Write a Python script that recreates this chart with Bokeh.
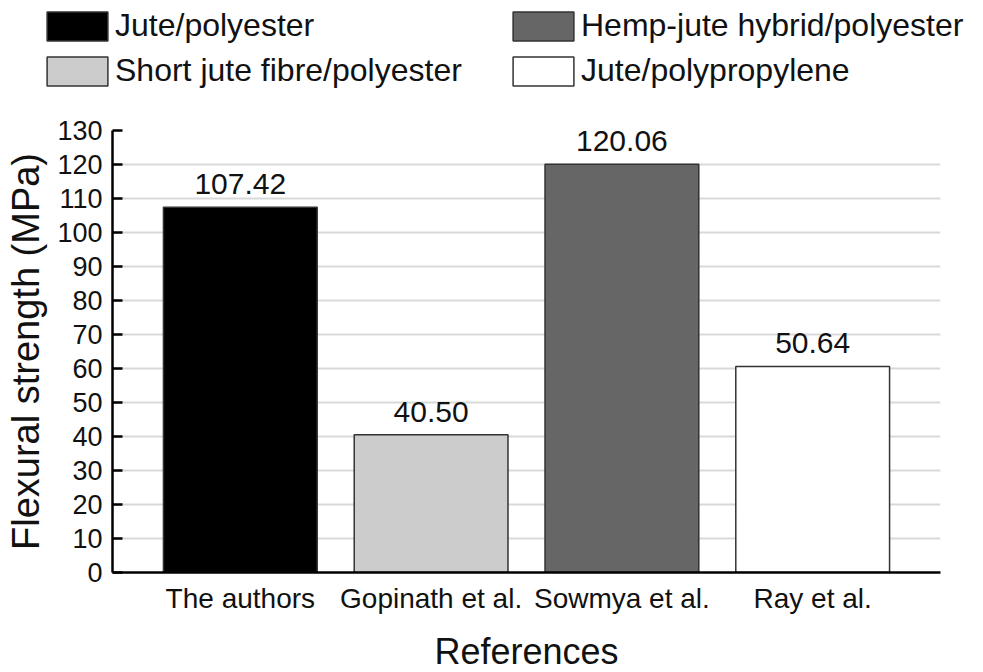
from bokeh.plotting import figure
from bokeh.layouts import column
from bokeh.models import ColumnDataSource, FactorRange, Legend, LegendItem, LabelSet, SingleIntervalTicker
from bokeh.core.properties import value
from bokeh.embed import file_html
from bokeh.resources import INLINE

# ---- data ----
references = ["The authors", "Gopinath et al.", "Sowmya et al.", "Ray et al."]
materials = ["Jute/polyester", "Short jute fibre/polyester",
             "Hemp-jute hybrid/polyester", "Jute/polypropylene"]
bar_heights = [107.42, 40.50, 120.06, 60.6]
value_labels = ["107.42", "40.50", "120.06", "50.64"]
fill_colors = ["#000000", "#cccccc", "#666666", "#ffffff"]

FONT = "Liberation Sans"
TOP_H = 100

src = ColumnDataSource(dict(ref=references, h=bar_heights, lab=value_labels,
                            color=fill_colors, mat=materials))

p = figure(frame_width=828, frame_height=442,
           x_range=FactorRange(factors=references, range_padding=0.17,
                               range_padding_units="absolute"),
           y_range=(0, 130),
           output_backend="svg", toolbar_location=None,
           min_border_left=112, min_border_right=19,
           min_border_top=130 - TOP_H, min_border_bottom=98)
p.outline_line_color = None
p.background_fill_color = "white"

bar_style = dict(fill_color="color", line_color="#333333", line_width=1.5)
bars = p.vbar(x="ref", top="h", width=0.806, source=src, **bar_style)

labels = LabelSet(x="ref", y="h", text="lab", source=src,
                  text_align="center", text_baseline="bottom", y_offset=13,
                  text_font=value(FONT), text_font_size="30px", text_color="#111111")
p.add_layout(labels)

# axes
p.yaxis.ticker = SingleIntervalTicker(interval=10)
p.yaxis.axis_label = "Flexural strength (MPa)"
p.xaxis.axis_label = "References"
for ax in (p.xaxis[0], p.yaxis[0]):
    ax.axis_line_color = "black"
    ax.axis_line_width = 2.5
    ax.major_label_text_font = FONT
    ax.axis_label_text_font = FONT
    ax.axis_label_text_font_style = "normal"
    ax.major_label_text_color = "#111111"
    ax.axis_label_text_color = "#111111"
    ax.minor_tick_line_color = None

p.yaxis.major_tick_in = 10
p.yaxis.major_tick_out = 0
p.yaxis.major_tick_line_width = 2.5
p.yaxis.major_tick_line_color = "black"
p.yaxis.major_label_text_font_size = "27px"
p.yaxis.major_label_standoff = 6
p.yaxis.axis_label_text_font_size = "38px"
p.yaxis.axis_label_standoff = 7

p.xaxis.major_tick_line_color = None
p.xaxis.major_tick_in = 0
p.xaxis.major_tick_out = 0
p.xaxis.major_label_text_font_size = "28px"
p.xaxis.major_label_standoff = 10
p.xaxis.axis_label_text_font_size = "36px"
p.xaxis.axis_label_standoff = 14

p.xgrid.grid_line_color = None
p.ygrid.grid_line_color = "#d9d9d9"
p.ygrid.grid_line_width = 2
p.ygrid.ticker = SingleIntervalTicker(interval=10)

# ---- legend strip above the chart ----
top = figure(frame_width=975, frame_height=TOP_H,
             x_range=FactorRange(factors=references), y_range=(1000, 1001),
             x_axis_type=None, y_axis_type=None,
             output_backend="svg", toolbar_location=None, min_border=0)
top.outline_line_color = None
top.grid.visible = False
proxy = top.vbar(x="ref", top="h", width=0.8, source=src, **bar_style)
proxy.visible = False

def make_legend(idx, loc):
    items = [LegendItem(label=materials[i], renderers=[proxy], index=i) for i in idx]
    return Legend(items=items, location=loc, orientation="vertical",
                  glyph_width=76, glyph_height=36, label_standoff=0,
                  label_text_font=FONT, label_text_font_size="32px",
                  label_text_color="#111111", spacing=8, padding=0, margin=0,
                  border_line_color=None, background_fill_alpha=0)

top.add_layout(make_legend([0, 1], (39, 11)))
top.add_layout(make_legend([2, 3], (505, 11)))

layout = column(top, p, spacing=0)
open("out.html", "w").write(file_html(layout, INLINE))
